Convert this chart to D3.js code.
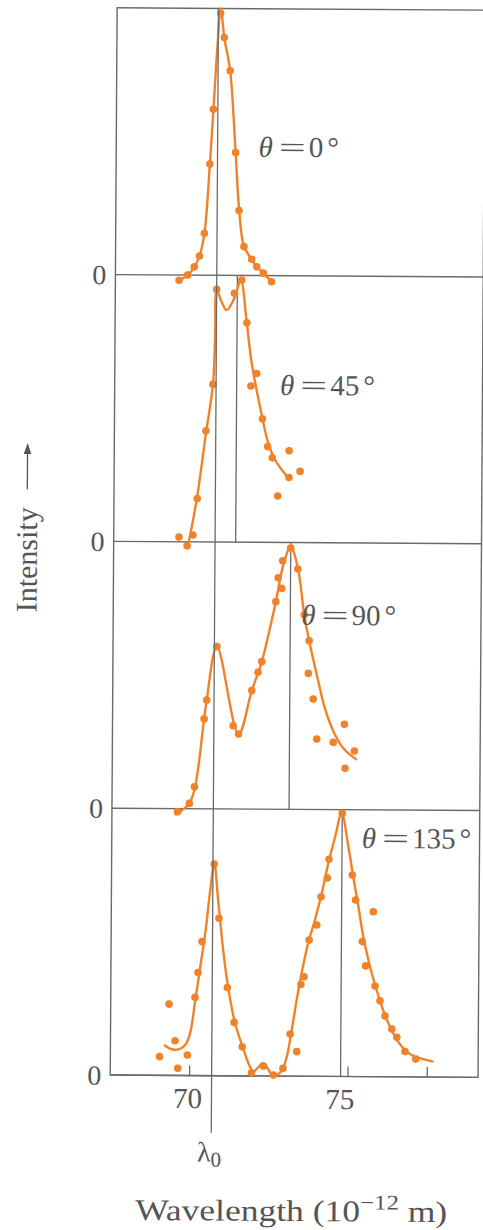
<!DOCTYPE html>
<html>
<head>
<meta charset="utf-8">
<script src="https://cdn.jsdelivr.net/npm/d3@7"></script>
<style>
  html, body { margin: 0; padding: 0; background: #ffffff; }
  svg { display: block; }
</style>
</head>
<body>
<div id="chart"></div>
<script>
// ---------------- DATA ----------------
const angleLabels = ["0", "45", "90", "135"];
const lambda0 = 70.71;                          // unshifted line (10^-12 m)
const shiftedPeaks = [null, 71.36, 73.10, 74.78]; // Compton-shifted line per angle
const tickValues = [70, 75, 77.5];
const tickLabels = ["70", "75", ""];

// measured points [wavelength, relative intensity]
const dots0 = [[70.78,0.982],[70.90,0.891],[71.09,0.767],[70.57,0.622],[70.47,0.417],[71.28,0.46],
  [71.40,0.243],[70.31,0.157],[70.16,0.072],[70.00,0.031],[69.79,0.0],[69.52,-0.02],[71.56,0.108],
  [71.81,0.061],[71.97,0.033],[72.18,0.009],[72.44,-0.023]];
const dots45 = [[70.71,0.947],[71.27,0.933],[71.50,0.983],[71.67,0.823],[71.99,0.633],[71.81,0.586],
  [72.18,0.463],[72.35,0.359],[72.50,0.317],[73.03,0.344],[73.38,0.267],[73.03,0.244],[72.68,0.174],
  [70.61,0.591],[70.40,0.417],[70.14,0.163],[70.01,0.026],[69.57,0.018],[69.83,-0.015]];
const dots90 = [[73.10,0.979],[72.85,0.931],[73.33,0.901],[72.71,0.868],[72.82,0.828],[72.64,0.778],
  [73.54,0.73],[73.70,0.632],[73.68,0.51],[73.84,0.414],[73.96,0.264],[74.83,0.32],[74.48,0.252],
  [75.15,0.22],[74.86,0.155],[72.21,0.553],[72.09,0.513],[71.90,0.444],[70.79,0.608],[70.48,0.408],
  [70.40,0.337],[71.32,0.312],[71.49,0.281],[70.11,0.082],[69.95,0.02],[69.58,-0.012]];
const dots135 = [[74.78,0.986],[74.37,0.814],[74.32,0.744],[74.13,0.673],[74.00,0.567],[73.76,0.511],
  [73.61,0.373],[73.51,0.344],[73.18,0.158],[73.39,0.092],[72.96,0.029],[72.66,0.004],[72.34,0.037],
  [71.97,0.012],[75.11,0.755],[75.22,0.662],[75.78,0.618],[75.44,0.506],[75.55,0.415],[75.85,0.34],
  [76.01,0.285],[76.17,0.228],[76.39,0.179],[76.55,0.148],[76.81,0.095],[77.15,0.067],[70.75,0.793],
  [70.91,0.59],[70.38,0.502],[70.26,0.386],[70.17,0.293],[71.19,0.331],[71.41,0.2],[71.67,0.109],
  [69.35,0.267],[69.55,0.13],[69.94,0.077],[69.06,0.07],[69.64,0.027]];

// drawn fit curves [wavelength, relative intensity]
const curve0 = [[69.52,-0.02],[69.79,0.0],[70.0,0.03],[70.16,0.072],[70.31,0.155],[70.47,0.417],
  [70.57,0.62],[70.68,0.85],[70.78,1.0],[70.90,0.89],[71.09,0.767],[71.28,0.46],[71.40,0.25],
  [71.56,0.11],[71.81,0.06],[71.97,0.033],[72.18,0.009],[72.44,-0.023]];
const curve45 = [[69.88,0.0],[70.12,0.157],[70.40,0.407],[70.61,0.588],[70.67,0.77],[70.71,0.945],
  [70.87,0.90],[71.03,0.87],[71.19,0.895],[71.34,0.939],[71.47,0.985],[71.67,0.82],[71.83,0.671],
  [72.18,0.465],[72.37,0.371],[72.59,0.309],[72.85,0.265],[73.06,0.234]];
const curve90 = [[69.50,-0.024],[69.95,0.02],[70.13,0.082],[70.40,0.337],[70.48,0.408],[70.79,0.608],
  [71.49,0.281],[71.90,0.444],[72.21,0.553],[72.64,0.778],[72.87,0.916],[73.10,0.984],[73.33,0.904],
  [73.54,0.73],[73.70,0.632],[73.95,0.504],[74.21,0.38],[74.49,0.292],[74.80,0.23],[75.23,0.187]];
const curve135 = [[69.20,0.114],[69.45,0.098],[69.66,0.098],[69.87,0.114],[70.02,0.158],[70.18,0.283],
  [70.33,0.408],[70.48,0.533],[70.63,0.696],[70.75,0.796],[70.88,0.659],[71.05,0.471],[71.21,0.334],
  [71.44,0.197],[71.70,0.103],[71.92,0.034],[72.03,0.016],[72.34,0.048],[72.66,0.0],[72.92,0.02],
  [73.08,0.073],[73.23,0.173],[73.38,0.286],[73.53,0.386],[73.73,0.499],[73.94,0.586],[74.15,0.686],
  [74.35,0.799],[74.56,0.898],[74.76,0.987],[74.98,0.861],[75.14,0.749],[75.31,0.637],[75.47,0.524],
  [75.69,0.412],[75.90,0.325],[76.11,0.25],[76.33,0.188],[76.59,0.132],[76.86,0.095],[77.18,0.074],
  [77.71,0.058]];

// label anchor for each θ annotation [wavelength, relative intensity]
const angleLabelAnchors = [[72.0,0.445],[72.73,0.553],[73.45,0.692],[75.40,0.857]];

const panelDots = [dots0, dots45, dots90, dots135];
const panelCurves = [curve0, curve45, curve90, curve135];

// ---------------- LAYOUT ----------------
const W = 483, H = 1230;
const plotL = 113.7, plotR = 481.5, plotT = 9, panelH = 266.8;
const orange = "#f08229", lineCol = "#6a6a6a", textCol = "#555";
const serif = "'Liberation Serif', 'DejaVu Serif', serif";
const tickLabelShift = [-2, -8, 0];

const svg = d3.select("#chart").append("svg").attr("width", W).attr("height", H)
  .style("background", "#fff");
// the scanned figure is tilted slightly clockwise
const g = svg.append("g").attr("transform", "rotate(0.37, 300, 540)");

const x = d3.scaleLinear().domain([67.51, 79.12]).range([plotL, plotR]);
const yPanel = k => d3.scaleLinear().domain([0, 1]).range([plotT + (k + 1) * panelH, plotT + k * panelH]);
const plotB = plotT + 4 * panelH;

// frame
g.append("rect").attr("x", plotL).attr("y", plotT).attr("width", plotR - plotL).attr("height", plotB - plotT)
  .attr("fill", "none").attr("stroke", lineCol).attr("stroke-width", 1.4);

panelDots.forEach((dots, k) => {
  const y = yPanel(k);
  const pg = g.append("g");
  pg.append("line").attr("x1", plotL).attr("x2", plotR).attr("y1", y(0)).attr("y2", y(0))
    .attr("stroke", lineCol).attr("stroke-width", 1.4);
  pg.append("text").attr("x", plotL - 9).attr("y", y(0)).attr("dy", "0.35em")
    .attr("text-anchor", "end").attr("font-family", serif).attr("font-size", 28)
    .attr("fill", textCol).text("0");
  if (shiftedPeaks[k] !== null) {
    pg.append("line").attr("x1", x(shiftedPeaks[k])).attr("x2", x(shiftedPeaks[k]))
      .attr("y1", y(0)).attr("y2", y(1)).attr("stroke", lineCol).attr("stroke-width", 1.3);
  }
  const line = d3.line().x(d => x(d[0])).y(d => y(d[1])).curve(d3.curveCatmullRom.alpha(0.5));
  pg.append("path").attr("d", line(panelCurves[k])).attr("fill", "none")
    .attr("stroke", orange).attr("stroke-width", 2.4).attr("stroke-linejoin", "round");
  pg.selectAll("circle").data(dots).join("circle")
    .attr("cx", d => x(d[0])).attr("cy", d => y(d[1])).attr("r", 3.8).attr("fill", orange);
  const a = angleLabelAnchors[k];
  const t = pg.append("text").attr("x", x(a[0])).attr("y", y(a[1]))
    .attr("font-family", serif).attr("font-size", 29).attr("fill", textCol);
  t.append("tspan").attr("font-style", "italic").text("θ");
  t.append("tspan").attr("dx", 6).attr("textLength", 27).attr("lengthAdjust", "spacingAndGlyphs").text("=");
  t.append("tspan").attr("dx", 3).text(angleLabels[k]);
  t.append("tspan").attr("dx", 4).text("°");
});

// λ0 line through all panels, extending below the axis
g.append("line").attr("x1", x(lambda0)).attr("x2", x(lambda0)).attr("y1", plotT).attr("y2", plotB + 57)
  .attr("stroke", lineCol).attr("stroke-width", 1.3);
const l0 = g.append("text").attr("x", x(lambda0) - 2).attr("y", plotB + 86).attr("text-anchor", "middle")
  .attr("font-family", serif).attr("font-size", 28).attr("fill", textCol);
l0.append("tspan").text("λ");
l0.append("tspan").attr("font-size", 21).attr("dy", 5).text("0");

// x axis ticks (inward) + labels
const xAxis = d3.axisBottom(x).tickValues(tickValues).tickSize(-10).tickPadding(12)
  .tickFormat((d, i) => tickLabels[i]);
const ax = g.append("g").attr("transform", `translate(0,${plotB})`).call(xAxis);
ax.select(".domain").remove();
ax.selectAll(".tick line").attr("stroke", lineCol).attr("stroke-width", 1.3);
ax.selectAll(".tick text").attr("font-family", serif).attr("font-size", 29).attr("fill", textCol)
  .attr("dx", (d, i) => tickLabelShift[i]);

// x axis title
const xt = g.append("text").attr("x", (plotL + plotR) / 2 - 2).attr("y", 1221).attr("text-anchor", "middle")
  .attr("font-family", serif).attr("font-size", 30).attr("fill", textCol)
  .attr("textLength", 312).attr("lengthAdjust", "spacingAndGlyphs");
xt.append("tspan").text("Wavelength (10");
xt.append("tspan").attr("font-size", 21).attr("dy", -12).text("−12");
xt.append("tspan").attr("dy", 12).text(" m)");

// y axis title with arrow
g.append("text").attr("transform", "translate(37,614) rotate(-90)")
  .attr("font-family", serif).attr("font-size", 30).attr("fill", textCol).text("Intensity");
svg.append("defs").append("marker").attr("id", "arr").attr("viewBox", "0 0 10 10")
  .attr("refX", 9).attr("refY", 5).attr("markerWidth", 11).attr("markerHeight", 11)
  .attr("markerUnits", "userSpaceOnUse").attr("orient", "auto")
  .append("path").attr("d", "M0,1.5 L10,5 L0,8.5 Z").attr("fill", textCol);
g.append("line").attr("x1", 27).attr("x2", 27).attr("y1", 491).attr("y2", 446)
  .attr("stroke", textCol).attr("stroke-width", 1.3).attr("marker-end", "url(#arr)");
</script>
</body>
</html>
